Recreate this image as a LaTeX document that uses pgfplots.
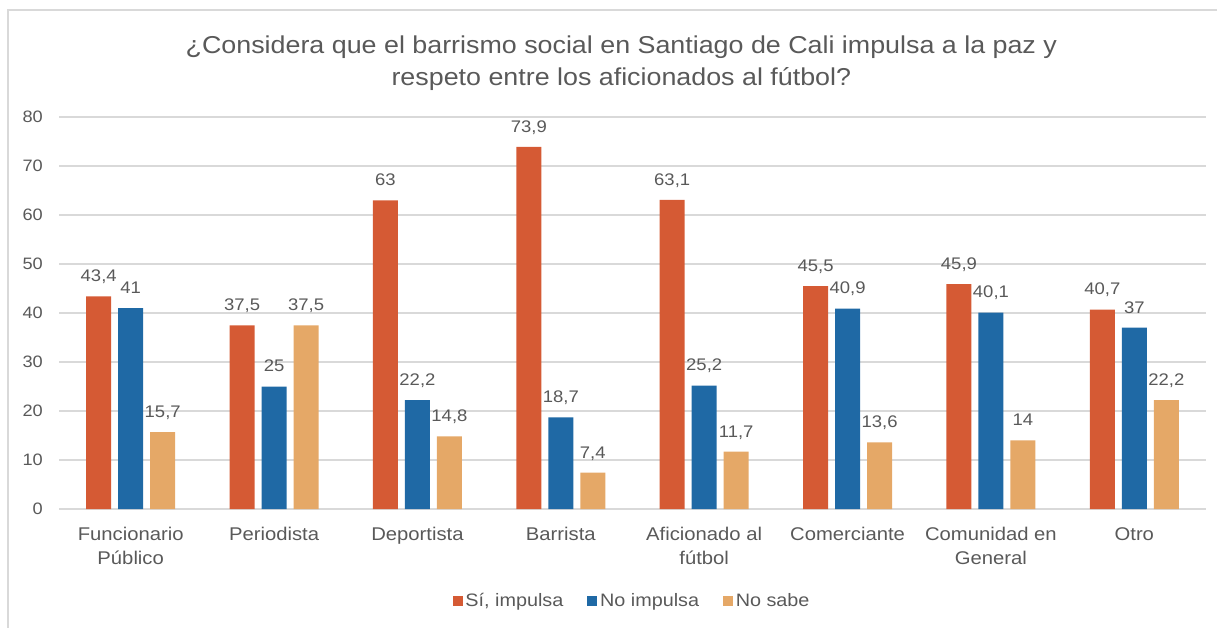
\documentclass[border=0pt]{standalone}
\usepackage{pgfplots}
\pgfplotsset{compat=1.18}
\usepackage{fontspec}
\setmainfont[FakeStretch=1.1]{Liberation Sans}
\definecolor{cSi}{HTML}{D55A34}
\definecolor{cNo}{HTML}{1F69A5}
\definecolor{cNs}{HTML}{E5A867}
\definecolor{txt}{HTML}{595959}
\definecolor{gridc}{HTML}{D9D9D9}
\begin{document}
\begin{tikzpicture}
\path[use as bounding box] (0,0) rectangle (912.75pt,471pt);
\draw[gridc, line width=1.2pt] (6pt,-5pt) rectangle (920pt,463.5pt);
\node[text=txt, align=center, font=\fontsize{18.3}{23.5}\selectfont] at (466pt,423.5pt)
  {¿Considera que el barrismo social en Santiago de Cali impulsa a la paz y\\respeto entre los aficionados al fútbol?};
\begin{axis}[
  at={(44.25pt,89.25pt)}, anchor=south west,
  scale only axis, width=860.25pt, height=294pt,
  ybar=5.25pt, bar width=18.75pt,
  xmin=-0.5, xmax=7.5, ymin=0, ymax=80,
  xtick={0,...,7}, ytick={0,10,...,80},
  xticklabels={{Funcionario\\Público},Periodista,Deportista,Barrista,{Aficionado al\\fútbol},Comerciante,{Comunidad en\\General},Otro},
  axis line style={draw=none},
  major tick length=0pt,
  ymajorgrids, grid style={gridc, line width=1pt},
  tick label style={text=txt},
  yticklabel style={anchor=east, inner sep=0pt, xshift=-12pt, font=\fontsize{12.4}{15}\selectfont},
  xticklabel style={anchor=north, inner sep=0pt, yshift=-13.5pt, align=center, font=\fontsize{13.8}{18}\selectfont},
  /pgf/number format/.cd, use comma, 1000 sep={}, assume math mode=true,
  /pgfplots/.cd,
  nodes near coords,
  nodes near coords style={text=txt, font=\fontsize{12.6}{15}\selectfont, anchor=base, yshift=11pt, inner sep=0pt},
  legend style={at={(0.5,-0.235)}, anchor=center, draw=none, fill=none,
    legend columns=3, font=\fontsize{13.5}{16}\selectfont, text=txt,
    /tikz/every even column/.append style={column sep=16pt}},
  legend image code/.code={\fill[#1] (0pt,-3.75pt) rectangle (7.5pt,3.75pt);},
]
\addplot[fill=cSi, draw=none] coordinates {(0,43.4) (1,37.5) (2,63) (3,73.9) (4,63.1) (5,45.5) (6,45.9) (7,40.7)};
\addplot[fill=cNo, draw=none] coordinates {(0,41) (1,25) (2,22.2) (3,18.7) (4,25.2) (5,40.9) (6,40.1) (7,37)};
\addplot[fill=cNs, draw=none] coordinates {(0,15.7) (1,37.5) (2,14.8) (3,7.4) (4,11.7) (5,13.6) (6,14) (7,22.2)};
\legend{{Sí, impulsa}, No impulsa, No sabe}
\end{axis}
\end{tikzpicture}
\end{document}
